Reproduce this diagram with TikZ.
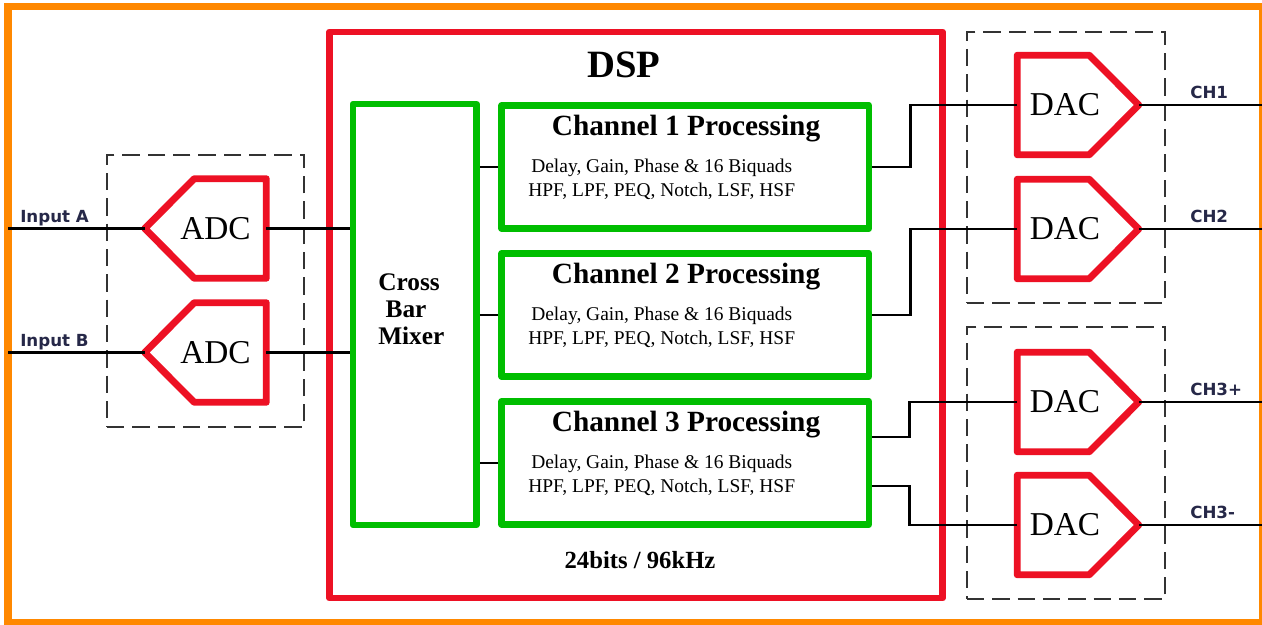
\documentclass[tikz,border=0pt]{standalone}
\usepackage{fontspec}
\setmainfont{Liberation Serif}
\newfontfamily\labelfont{DejaVu Sans}
\usetikzlibrary{calc}
\definecolor{dspred}{RGB}{237,17,36}
\definecolor{boxgreen}{RGB}{0,190,0}
\definecolor{frameorange}{RGB}{255,136,0}
\definecolor{labelnavy}{RGB}{38,40,72}
\tikzset{
  redline/.style={draw=dspred, line width=5.2pt, line join=round},
  greenbox/.style={rectangle, draw=boxgreen, line width=4.9pt, line join=round, inner sep=0pt},
  wire/.style={draw=black, line width=1.9pt},
  dashbox/.style={draw=black!80, line width=1.1pt, dash pattern=on 13pt off 6pt},
  conv/.style={rectangle, inner sep=0pt, minimum width=90.75pt, minimum height=74.25pt},
  convtext/.style={inner sep=0pt, font=\fontsize{25}{25}\selectfont},
  chbox/.style={greenbox, minimum width=275.6pt, minimum height=92.25pt},
  chtitle/.style={inner sep=0pt, font=\bfseries\fontsize{22}{22}\selectfont},
  chbody/.style={inner sep=0pt, align=center, font=\fontsize{14.6}{18}\selectfont},
  iolabel/.style={inner sep=0pt, anchor=base west, text=labelnavy, font=\labelfont\bfseries\fontsize{12.5}{12.5}\selectfont},
}
\newcommand\adcpent[1]{%
  \draw[redline] (#1.west) -- ($(#1.north west)+(49.5,0)$) -- (#1.north east)
    -- (#1.south east) -- ($(#1.south west)+(49.5,0)$) -- cycle;}
\newcommand\dacpent[1]{%
  \draw[redline] (#1.north west) -- ($(#1.north east)+(-49.5,0)$) -- (#1.east)
    -- ($(#1.south east)+(-49.5,0)$) -- (#1.south west) -- cycle;}
\begin{document}
\begin{tikzpicture}[x=0.75pt,y=-0.75pt]
\useasboundingbox (0,0) rectangle (1262,624);
\clip (0,0) rectangle (1262,624);
\fill[white] (0,0) rectangle (1262,624);
% outer orange frame
\draw[draw=frameorange, line width=5.3pt] (8,6.5) rectangle (1263,623);

% DSP box
\node[rectangle, draw=dspred, line width=5.2pt, line join=round, inner sep=0pt,
      minimum width=459.75pt, minimum height=424.5pt] (dsp) at (636,315) {};
\node[inner sep=0pt, font=\bfseries\fontsize{29}{29}\selectfont] (dsptitle) at (624,64.5) {DSP};
\node[inner sep=0pt, font=\bfseries\fontsize{18.5}{18.5}\selectfont] (rate) at (640,560) {24bits / 96kHz};

% dashed groups
\node[rectangle, dashbox, inner sep=0pt, minimum width=147.75pt, minimum height=204pt] (adcgrp) at (205.5,291) {};
\node[rectangle, dashbox, inner sep=0pt, minimum width=148.5pt, minimum height=203.25pt] (dacgrpA) at (1066,167.5) {};
\node[rectangle, dashbox, inner sep=0pt, minimum width=148.5pt, minimum height=204pt] (dacgrpB) at (1066,463) {};

% mixer
\node[greenbox, minimum width=92.6pt, minimum height=315.75pt] (mixer) at (414.75,314.5) {};
\node[inner sep=0pt, anchor=west, align=left, font=\bfseries\fontsize{19}{20.25}\selectfont] (mixertext) at (378,309) {Cross\\\hspace*{5.5pt}Bar\\Mixer};

% channel boxes
\node[chbox] (ch1) at (685.25,167) {};
\node[chbox] (ch2) at (685.25,315) {};
\node[chbox] (ch3) at (685.25,463) {};
\foreach \c/\n in {ch1/1,ch2/2,ch3/3}{
  \node[chtitle] (\c title) at ($(\c.center)+(0.75,-38)$) {Channel \n\ Processing};
  \node[chbody] (\c body) at ($(\c.center)+(-23.5,12.5)$) {Delay, Gain, Phase \& 16 Biquads\\HPF, LPF, PEQ, Notch, LSF, HSF};
}

% converters
\node[conv] (adcA) at (205.5,228.5) {};
\node[conv] (adcB) at (205.5,352.5) {};
\node[conv] (dac1) at (1078,105) {};
\node[conv] (dac2) at (1078,229) {};
\node[conv] (dac3) at (1078,402) {};
\node[conv] (dac4) at (1078,525) {};
\adcpent{adcA}\adcpent{adcB}
\dacpent{dac1}\dacpent{dac2}\dacpent{dac3}\dacpent{dac4}
\foreach \a in {adcA,adcB}{\node[convtext] (\a txt) at ($(\a.center)+(10,0)$) {ADC};}
\foreach \d in {dac1,dac2,dac3,dac4}{\node[convtext] (\d txt) at ($(\d.center)+(-13,0)$) {DAC};}

% free ends
\coordinate (inA) at (8,228.5);
\coordinate (inB) at (8,352.5);
\coordinate (out1) at (1262,105);
\coordinate (out2) at (1262,229);
\coordinate (out3) at (1262,402);
\coordinate (out4) at (1262,525);
\coordinate (ch3a) at ($(ch3.east)+(0,-26)$);
\coordinate (ch3b) at ($(ch3.east)+(0,23)$);

% wires
\draw[wire] (inA) -- (adcA.west);
\draw[wire] (inB) -- (adcB.west);
\draw[wire] (adcA.east) -- (adcA.east -| mixer.west);
\draw[wire] (adcB.east) -- (adcB.east -| mixer.west);
\foreach \c in {ch1,ch2,ch3}{\draw[wire] (\c.west -| mixer.east) -- (\c.west);}
\draw[wire] (ch1.east) -- ++(38,0) |- (dac1.west);
\draw[wire] (ch2.east) -- ++(38,0) |- (dac2.west);
\draw[wire] (ch3a) -- ++(37,0) |- (dac3.west);
\draw[wire] (ch3b) -- ++(37,0) |- (dac4.west);
\draw[wire] (dac1.east) -- (out1);
\draw[wire] (dac2.east) -- (out2);
\draw[wire] (dac3.east) -- (out3);
\draw[wire] (dac4.east) -- (out4);

% io labels
\node[iolabel] (lblA) at (20,222.5) {Input A};
\node[iolabel] (lblB) at (20,346.5) {Input B};
\node[iolabel] (lbl1) at (1190,98.5) {CH1};
\node[iolabel] (lbl2) at (1190,222.5) {CH2};
\node[iolabel] (lbl3) at (1190,395.5) {CH3+};
\node[iolabel] (lbl4) at (1190,518.5) {CH3-};
\end{tikzpicture}
\end{document}
